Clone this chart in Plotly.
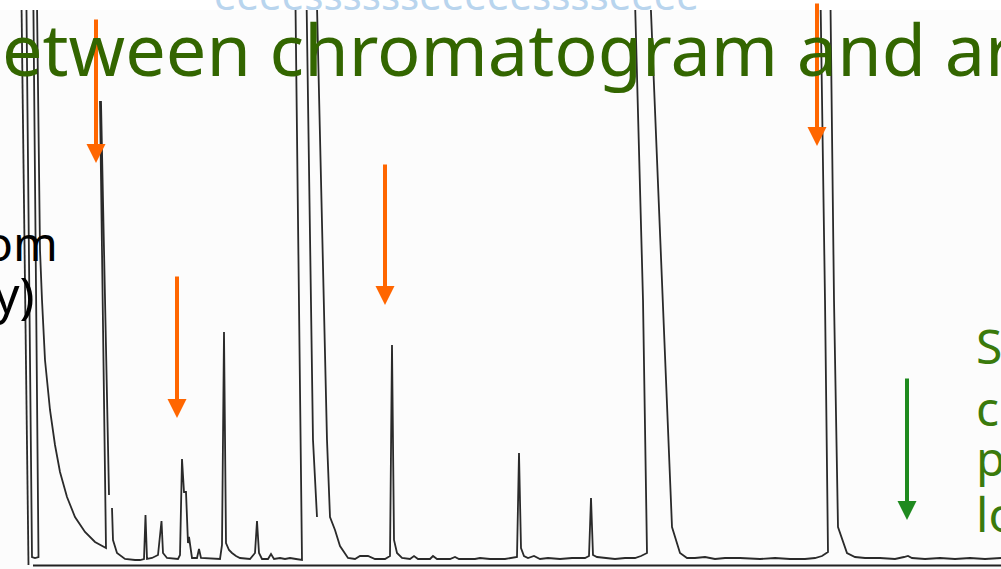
import plotly.graph_objects as go

W, H = 1001, 569
TOP = 10  # top edge of the scanned chromatogram (pixels)

# ---------------- chromatogram data (retention units, detector signal) ----------------
# solvent front: three pen strokes (off scale = 600)
solv1_rt = [21, 28.5]
solv1_sig = [600, -2]
solv2_rt = [26, 32, 35, 38.5, 33]
solv2_sig = [600, 6, 5, 6, 600]
# solvent tail and first large peak
tail_rt = [36.5, 40, 42, 45, 50, 55, 60, 67, 75, 85, 95, 103, 106, 100, 101, 109]
tail_sig = [600, 313, 263, 203, 153, 118, 91, 66, 46, 31, 21, 16, 15, 461, 461, 68]
# early small peaks
early_rt = [112, 113, 117, 125, 135, 140, 144, 145.5, 147, 152, 158, 161.5, 163, 167, 178,
            180, 182, 184, 186, 188, 189, 190, 192, 197, 199, 201, 220, 222, 224, 226,
            229, 232, 236, 240, 250, 255, 257, 259, 262, 268, 271, 274, 280, 285, 290,
            296, 302]
early_sig = [55, 23, 10, 4, 3, 3, 4, 48, 4, 5, 8, 42, 10, 5, 4,
             8, 104, 71, 71, 20, 26, 18, 5, 5, 14, 5, 4, 18, 231, 20,
             13, 10, 7, 5, 4, 10, 42, 10, 4, 4, 9, 4, 5, 4, 5,
             4, 3]
# middle part (major peak 2, peak at 392, small peaks, major peak 3 left edge)
mid_rt = [295, 316, 327, 330, 335, 340, 348, 355, 360, 368, 375, 385, 390, 392, 394,
          397, 402, 410, 414, 418, 430, 433, 437, 450, 455, 459, 475, 480, 490, 505,
          517, 519, 521, 524, 528, 534, 540, 548, 560, 572, 585, 589, 591, 593, 597,
          605, 615, 625, 635, 641, 647, 643, 634]
mid_sig = [600, 600, 123, 46, 33, 17, 5, 4, 7, 7, 4, 4, 7, 218, 23,
           10, 5, 4, 7, 4, 4, 7, 4, 4, 6, 4, 4, 5, 4, 4,
           6, 110, 15, 7, 5, 7, 4, 5, 4, 5, 5, 7, 65, 8, 6,
           5, 4, 5, 5, 7, 10, 263, 600]
# major peak 3 right edge to major peak 4
late_rt = [649, 663, 672, 680, 687, 695, 705, 715, 725, 740, 760, 775, 790, 805, 815,
           822, 828, 825, 820]
late_sig = [600, 263, 36, 10, 5, 5, 6, 4, 5, 5, 4, 5, 4, 4, 5,
            7, 11, 263, 600]
# major peak 4 right edge to end
end_rt = [830, 834, 838, 847, 855, 865, 880, 895, 904, 908, 912, 925, 940, 955, 970,
          985, 1001]
end_sig = [600, 263, 36, 10, 6, 5, 5, 4, 6, 7, 5, 4, 5, 4, 5,
           4, 5]
# extra pen stroke inside major peak 2
pen_rt = [306, 313, 317]
pen_sig = [600, 123, 46]

segments = [(solv1_rt, solv1_sig), (solv2_rt, solv2_sig), (tail_rt, tail_sig),
            (early_rt + mid_rt + late_rt + end_rt, early_sig + mid_sig + late_sig + end_sig),
            (pen_rt, pen_sig)]
rt, sig = [], []
for a, b in segments:
    assert len(a) == len(b)
    rt += a + [None]
    sig += b + [None]

# arrows: (retention, signal at tip, length px, colour)
arrow_rt = [96, 177, 385, 817, 907]
arrow_tip = [400, 145, 258, 417, 43]
arrow_len = [145, 143, 142, 144, 143]
arrow_col = ['#ff6600', '#ff6600', '#ff6600', '#ff6600', '#1f8a1f']

fig = go.Figure()
fig.add_trace(go.Scatter(x=rt, y=sig, mode='lines', connectgaps=False,
                         line=dict(color='#2a2a2a', width=1.8), hoverinfo='skip'))

# bottom axis line of the recorder chart
fig.add_shape(type='line', xref='x', yref='y', x0=33, x1=1001, y0=-2.5, y1=-2.5,
              line=dict(color='#222', width=2))

anns = []
for xr, yt, ln, c in zip(arrow_rt, arrow_tip, arrow_len, arrow_col):
    anns.append(dict(x=xr, y=yt, xref='x', yref='y', ax=0, ay=-ln, text='',
                     showarrow=True, arrowhead=2, arrowsize=0.95, arrowwidth=4,
                     arrowcolor=c, standoff=0))


def txt(s, px, base, size, color, anchor='left'):
    desc = 0.293 * size + 1
    return dict(text=s, xref='paper', yref='paper', x=px / W,
                y=(H - (base + desc)) / (H - TOP), xanchor=anchor, yanchor='bottom',
                showarrow=False, font=dict(family='Noto Sans', size=size, color=color))


anns.append(txt('eeeesssssseeeeesssseeee', 212, 11, 40, '#b9d5ee'))
anns.append(txt('etween chromatogram and ar', 0, 77, 72, '#336600'))
anns.append(txt('om', 60, 262, 48, '#000000', 'right'))
anns.append(txt('y)', 37, 314, 50, '#000000', 'right'))
for s, b in zip(['S', 'co', 'pr', 'lo'], [365, 427, 477, 533]):
    anns.append(txt(s, 974, b, 48, '#3a7a0c'))

fig.update_layout(
    width=W, height=H, margin=dict(l=0, r=0, t=TOP, b=0),
    paper_bgcolor='white', plot_bgcolor='#fcfcfc', showlegend=False,
    xaxis=dict(range=[0, 1001], visible=False, fixedrange=True),
    yaxis=dict(range=[-6, 553], visible=False, fixedrange=True),
    annotations=anns,
)

fig.write_html("out.html", config={'displayModeBar': False},
               post_script="document.body.style.margin='0';document.body.style.overflow='hidden';")
